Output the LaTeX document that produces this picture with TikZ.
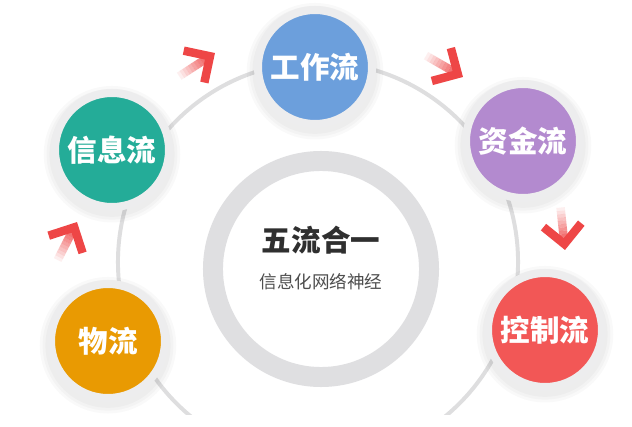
\documentclass[tikz,border=0pt]{standalone}
\usepackage{fontspec}
\setmainfont{Noto Sans CJK SC}

\definecolor{workblue}{HTML}{6C9FDC}
\definecolor{infoteal}{HTML}{24AC98}
\definecolor{fundpurple}{HTML}{B38ACF}
\definecolor{goodsorange}{HTML}{E99A02}
\definecolor{ctrlred}{HTML}{F25756}
\definecolor{arrowred}{HTML}{EE4646}
\definecolor{ringgray}{HTML}{EDEDEE}
\definecolor{hubgray}{HTML}{DFDFE1}
\definecolor{arcgray}{HTML}{DEDEDF}
\definecolor{titlegray}{HTML}{2F2F2F}

\tikzset{
  flow/.style={circle, draw=ringgray, line width=5.7pt, minimum size=2.85cm,
    inner sep=0pt, text=white, font=\fontsize{21pt}{21pt}\selectfont\bfseries,
    preaction={draw=black, draw opacity=0.022, line width=16pt, transform canvas={yshift=-3pt}},
    preaction={draw=black, draw opacity=0.022, line width=12pt, transform canvas={yshift=-3pt}},
    preaction={draw=black, draw opacity=0.022, line width=8pt, transform canvas={yshift=-3pt}}},
  flowhead/.style={draw=arrowred, line width=6pt, line join=miter}
}

\newcommand{\flowarrow}[3]{%
  \begin{scope}[shift={(#1,#2)}, rotate=#3]
    \foreach \k in {0,...,11}
      \draw[arrowred, line width=6pt, opacity=\k/12]
        ({-46+\k*40/12},0) -- ({-46+(\k+1)*40/12},0);
    \draw[flowhead] (-25,19) -- (-6,0) -- (-25,-19);
  \end{scope}}

\begin{document}
\begin{tikzpicture}[x=0.025cm, y=-0.025cm]
\fill[white] (0,0) rectangle (632,427);
\useasboundingbox (0,0) rectangle (632,427);

\begin{scope}
\clip (0,0) rectangle (632,414);
\draw[arcgray, line width=2.8pt] (318,262) circle [radius=5cm];
\end{scope}

\node[circle, draw=hubgray, fill=white, line width=14.2pt, minimum size=5.4cm] (hub) at (321,269) {};
\node[font=\fontsize{21pt}{21pt}\selectfont\bfseries, text=titlegray] (title) at (321,240) {五流合一};
\node[font=\fontsize{12.5pt}{12.5pt}\selectfont, text=titlegray!85] (subtitle) at (321,282) {信息化网络神经};

\node[flow, fill=workblue] (work) at (315,67) {工作流};
\node[flow, fill=infoteal] (info) at (112,150) {信息流};
\node[flow, fill=fundpurple] (fund) at (523,141) {资金流};
\node[flow, fill=goodsorange] (goods) at (108,341) {物流};
\node[flow, fill=ctrlred] (ctrl) at (545,330) {控制流};

\flowarrow{215}{53}{33}
\flowarrow{463}{77}{-30}
\flowarrow{565}{250}{-84}
\flowarrow{77}{222}{63}
\end{tikzpicture}
\end{document}
